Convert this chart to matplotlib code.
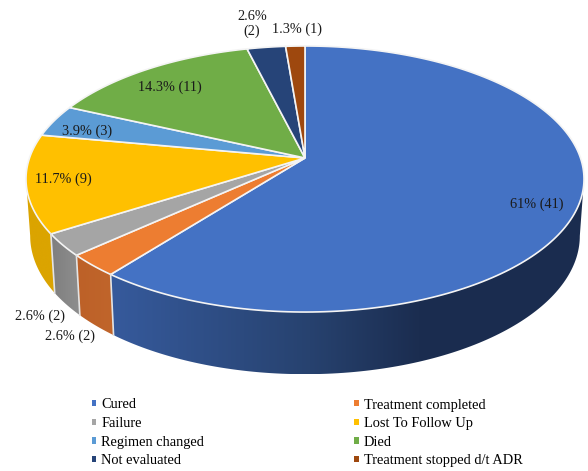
import numpy as np
import matplotlib
matplotlib.use('Agg')
import matplotlib.pyplot as plt
from matplotlib.colors import LinearSegmentedColormap
from matplotlib.patches import Polygon

categories = ['Cured', 'Treatment completed', 'Failure', 'Lost To Follow Up',
              'Regimen changed', 'Died', 'Not evaluated', 'Treatment stopped d/t ADR']
percents = [61, 2.6, 2.6, 11.7, 3.9, 14.3, 2.6, 1.3]
counts = [41, 2, 2, 9, 3, 11, 2, 1]
# slice sizes as drawn in the picture, slightly off the printed labels
sizes = [60.6, 2.7, 2.7, 11.9, 3.9, 14.3, 2.6, 1.3]
colors = ['#4472C4', '#ED7D31', '#A5A5A5', '#FFC000', '#5B9BD5', '#70AD47', '#264478', '#9E480E']

# darker side of the pie, left colour -> right colour
side_colors = {0: [(0, '#365A9C'), (0.42, '#27426F'), (0.65, '#1B2D50'), (1, '#1A2C4F')],
               1: [(0, '#BD6128'), (1, '#C0652B')],
               2: [(0, '#7F7F7F'), (1, '#8E8E8E')],
               3: [(0, '#DBA400'), (1, '#DBA400')]}

# perspective of the pie, in pixels of the image
cx, cy = 305, 158
big_x, big_y, k = 275.5, 129.7, 0.158
side_y, side_sx, side_sy = 214, 0.985, 1.04

# label centres in pixels
label_x = [537, 70, 40, 63, 87, 170, 252, 297]
label_y = [204, 336, 316, 179, 131, 87, 24, 29]


def top_rim(t):
    u, v = np.sin(t), np.cos(t)
    return cx + big_x * u / (1 + k * v), cy - big_y * v / (1 + k * v)


def bottom_rim(t):
    u, v = np.sin(t), np.cos(t)
    return cx + side_sx * big_x * u / (1 + k * v), side_y - side_sy * big_y * v / (1 + k * v)


fig = plt.figure(figsize=(5.88, 4.71), dpi=100)
ax = fig.add_axes([0, 0, 1, 1])
plt.rcParams['font.family'] = ['Liberation Serif', 'DejaVu Serif']

edges = np.radians(np.cumsum([0] + sizes) / sum(sizes) * 360)
right_t, left_t = np.arccos(-k), 2 * np.pi - np.arccos(-k)

# sides first
for i in range(len(sizes)):
    a, b = max(edges[i], right_t if i == 0 else 0), min(edges[i + 1], left_t)
    if a >= b:
        continue
    t = np.linspace(a, b, 120)
    xt, yt = top_rim(t)
    xb, yb = bottom_rim(t)
    pts = np.column_stack([np.r_[xt, xb[::-1]], np.r_[yt, yb[::-1]]])
    poly = Polygon(pts, closed=True, facecolor='none', edgecolor='none')
    ax.add_patch(poly)
    cmap = LinearSegmentedColormap.from_list('side', side_colors[i])
    im = ax.imshow(np.linspace(0, 1, 256).reshape(1, -1), cmap=cmap, aspect='auto',
                   extent=[pts[:, 0].min(), pts[:, 0].max(), pts[:, 1].max(), pts[:, 1].min()])
    im.set_clip_path(poly)
    # light line between the side pieces
    if i < 3:
        ax.plot([xt[-1], xb[-1]], [yt[-1], yb[-1]], color='#E4E4E4', lw=1.2)

# top face
handles = {}
for i in range(len(sizes)):
    t = np.linspace(edges[i], edges[i + 1], 200)
    xt, yt = top_rim(t)
    handles[i] = ax.fill(np.r_[cx, xt], np.r_[cy, yt], color=colors[i], ec='#F4F4F4', lw=1.2,
                         label=categories[i])[0]

for i in range(len(percents)):
    txt = f'{percents[i]}% ({counts[i]})'
    if i == 6:
        txt = f'{percents[i]}%\n({counts[i]})'
    ax.text(label_x[i], label_y[i], txt, ha='center', va='center', fontsize=10.3,
            color='#1a1a1a', linespacing=1.15)

# legend is filled row by row in the picture, matplotlib fills by column
order = [0, 2, 4, 6, 1, 3, 5, 7]
leg = ax.legend([handles[i] for i in order], [categories[i] for i in order], ncol=2,
                loc='upper left', bbox_to_anchor=(92 / 588, 1 - 398.5 / 471), frameon=False,
                fontsize=10.4, handlelength=0.3, handleheight=0.3, handletextpad=0.35,
                labelspacing=0.39, columnspacing=10.4, borderpad=0, borderaxespad=0)
for h in leg.legend_handles:
    h.set_edgecolor('none')

ax.set_xlim(0, 588)
ax.set_ylim(471, 0)
ax.axis('off')
fig.savefig('out.png', dpi=100)
